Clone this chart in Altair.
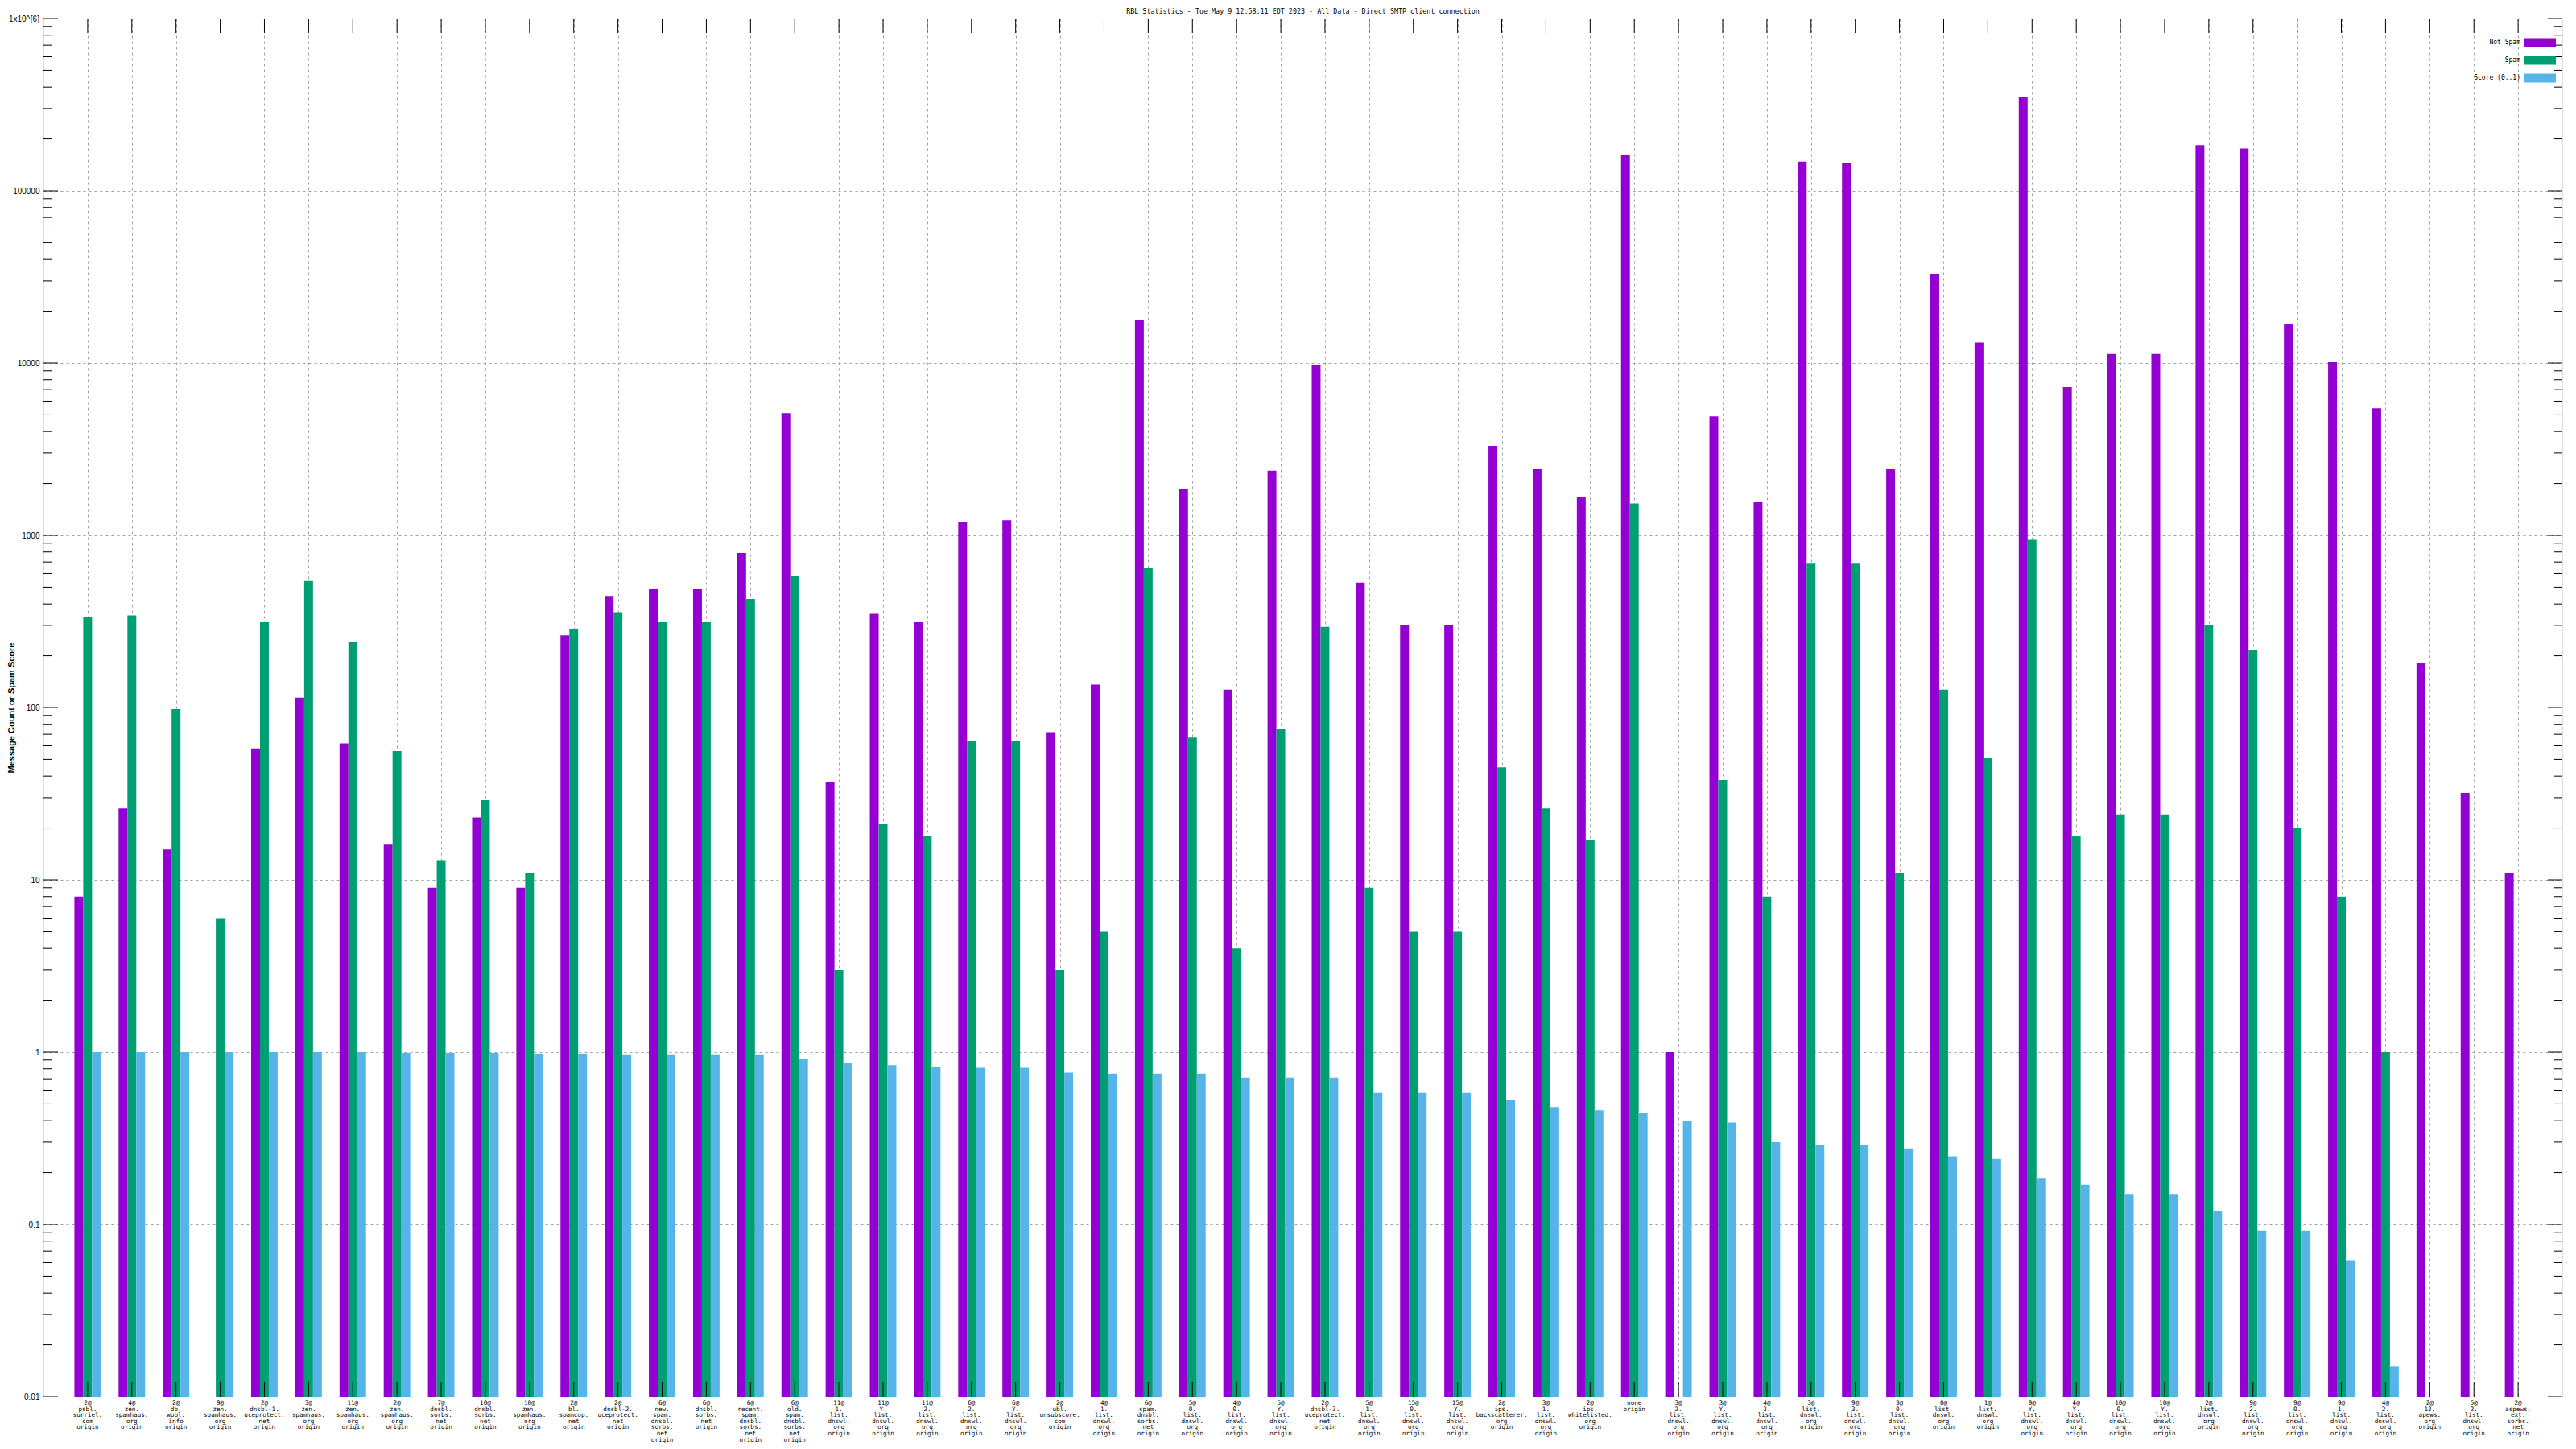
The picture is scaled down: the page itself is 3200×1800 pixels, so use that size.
import altair as alt
import pandas as pd

MONO = "DejaVu Sans Mono"

series = ["Not Spam", "Spam", "Score (0..1)"]
colors = ["#9400D3", "#009E73", "#56B4E9"]

labels = [
    "2@\npsbl.\nsurriel.\ncom\norigin",
    "4@\nzen.\nspamhaus.\norg\norigin",
    "2@\ndb.\nwpbl.\ninfo\norigin",
    "9@\nzen.\nspamhaus.\norg\norigin",
    "2@\ndnsbl-1.\nuceprotect.\nnet\norigin",
    "3@\nzen.\nspamhaus.\norg\norigin",
    "11@\nzen.\nspamhaus.\norg\norigin",
    "2@\nzen.\nspamhaus.\norg\norigin",
    "7@\ndnsbl.\nsorbs.\nnet\norigin",
    "10@\ndnsbl.\nsorbs.\nnet\norigin",
    "10@\nzen.\nspamhaus.\norg\norigin",
    "2@\nbl.\nspamcop.\nnet\norigin",
    "2@\ndnsbl-2.\nuceprotect.\nnet\norigin",
    "6@\nnew.\nspam.\ndnsbl.\nsorbs.\nnet\norigin",
    "6@\ndnsbl.\nsorbs.\nnet\norigin",
    "6@\nrecent.\nspam.\ndnsbl.\nsorbs.\nnet\norigin",
    "6@\nold.\nspam.\ndnsbl.\nsorbs.\nnet\norigin",
    "11@\n1.\nlist.\ndnswl.\norg\norigin",
    "11@\nY.\nlist.\ndnswl.\norg\norigin",
    "11@\n2.\nlist.\ndnswl.\norg\norigin",
    "6@\n2.\nlist.\ndnswl.\norg\norigin",
    "6@\nY.\nlist.\ndnswl.\norg\norigin",
    "2@\nubl.\nunsubscore.\ncom\norigin",
    "4@\n1.\nlist.\ndnswl.\norg\norigin",
    "6@\nspam.\ndnsbl.\nsorbs.\nnet\norigin",
    "5@\n0.\nlist.\ndnswl.\norg\norigin",
    "4@\n0.\nlist.\ndnswl.\norg\norigin",
    "5@\nY.\nlist.\ndnswl.\norg\norigin",
    "2@\ndnsbl-3.\nuceprotect.\nnet\norigin",
    "5@\n1.\nlist.\ndnswl.\norg\norigin",
    "15@\n0.\nlist.\ndnswl.\norg\norigin",
    "15@\nY.\nlist.\ndnswl.\norg\norigin",
    "2@\nips.\nbackscatterer.\norg\norigin",
    "3@\n1.\nlist.\ndnswl.\norg\norigin",
    "2@\nips.\nwhitelisted.\norg\norigin",
    "none\norigin",
    "3@\n2.\nlist.\ndnswl.\norg\norigin",
    "3@\nY.\nlist.\ndnswl.\norg\norigin",
    "4@\n3.\nlist.\ndnswl.\norg\norigin",
    "3@\nlist.\ndnswl.\norg\norigin",
    "9@\n3.\nlist.\ndnswl.\norg\norigin",
    "3@\n0.\nlist.\ndnswl.\norg\norigin",
    "0@\nlist.\ndnswl.\norg\norigin",
    "1@\nlist.\ndnswl.\norg\norigin",
    "9@\nY.\nlist.\ndnswl.\norg\norigin",
    "4@\nY.\nlist.\ndnswl.\norg\norigin",
    "10@\n0.\nlist.\ndnswl.\norg\norigin",
    "10@\nY.\nlist.\ndnswl.\norg\norigin",
    "2@\nlist.\ndnswl.\norg\norigin",
    "9@\n2.\nlist.\ndnswl.\norg\norigin",
    "9@\n0.\nlist.\ndnswl.\norg\norigin",
    "9@\n1.\nlist.\ndnswl.\norg\norigin",
    "4@\n2.\nlist.\ndnswl.\norg\norigin",
    "2@\n12.\napews.\norg\norigin",
    "5@\n2.\nlist.\ndnswl.\norg\norigin",
    "2@\naspews.\next.\nsorbs.\nnet\norigin",
]

not_spam = [8, 26, 15, 0, 58, 114, 62, 16, 9, 23, 9, 263, 445, 486, 486, 789, 5118,
            37, 350, 313, 1200, 1225, 72, 136, 17900, 1862, 127, 2371, 9680, 532, 300,
            300, 3300, 2420, 1667, 161000, 1, 4900, 1560, 147600, 144000, 2420, 33000,
            13150, 348000, 7250, 11300, 11300, 184000, 176000, 16750, 10100, 5460, 181,
            32, 11]

spam = [335, 343, 98, 6, 313, 543, 240, 56, 13, 29, 11, 287, 358, 313, 313, 427, 581,
        3, 21, 18, 64, 64, 3, 5, 647, 67, 4, 75, 294, 9, 5, 5, 45, 26, 17, 1528, 0, 38,
        8, 692, 692, 11, 127, 51, 942, 18, 24, 24, 300, 216, 20, 8, 1, 0, 0, 0]

score = [1, 1, 1, 1, 1, 1, 1, 0.99, 0.99, 0.99, 0.98, 0.98, 0.97, 0.97, 0.97, 0.97,
         0.91, 0.86, 0.84, 0.82, 0.81, 0.81, 0.76, 0.75, 0.75, 0.75, 0.71, 0.71, 0.71,
         0.58, 0.58, 0.58, 0.53, 0.48, 0.46, 0.445, 0.40, 0.39, 0.30, 0.29, 0.29, 0.276,
         0.248, 0.24, 0.186, 0.17, 0.15, 0.15, 0.12, 0.092, 0.092, 0.062, 0.015, 0, 0, 0]

y_major = [0.01, 0.1, 1, 10, 100, 1000, 10000, 100000, 1000000]
y_minor = [m * 10.0 ** e for e in range(-2, 6) for m in range(2, 10)]

TITLE = "RBL Statistics - Tue May  9 12:58:11 EDT 2023 - All Data - Direct SMTP client connection"
YTITLE = "Message Count or Spam Score"

W, H = 3129, 1712
N = len(labels)

rows = []
for i, vals in enumerate(zip(not_spam, spam, score), start=1):
    for k, (s, v) in enumerate(zip(series, vals)):
        if v > 0:
            rows.append({"idx": i, "series": s, "value": v,
                         "x0": i - 0.3 + 0.2 * k, "x1": i - 0.1 + 0.2 * k, "base": 0.01})
df = pd.DataFrame(rows)
lab_df = pd.DataFrame({"idx": list(range(1, N + 1)), "label": labels})

xscale = alt.Scale(domain=[0, N + 1], nice=False, zero=False)
yscale = alt.Scale(type="log", domain=[0.01, 1000000], nice=False)

GRID = dict(grid=True, gridDash=[3, 4], gridColor="#a0a0a0", gridWidth=1)

XAX = alt.Axis(values=list(range(1, N + 1)), labels=False, ticks=False,
               domain=False, title=None, **GRID)
YAX = alt.Axis(values=y_major, ticks=False, domain=False,
               labelExpr="datum.value >= 1000000 ? '1x10^{6}' : (datum.value >= 1 ? format(datum.value, 'd') : format(datum.value, '.2~f'))",
               title=YTITLE, titleX=-40, titleY=H / 2,
               titleAngle=270, titleAlign="center", titleBaseline="middle",
               labelPadding=5, **GRID)

bars = alt.Chart(df).mark_bar(strokeWidth=0).encode(
    x=alt.X("x0:Q", scale=xscale, axis=XAX),
    x2="x1:Q",
    y=alt.Y("value:Q", scale=yscale, axis=YAX),
    y2="base:Q",
    color=alt.Color("series:N", scale=alt.Scale(domain=series, range=colors), legend=None),
)

idx_df = pd.DataFrame({"idx": list(range(1, N + 1))})
xt_bottom = alt.Chart(idx_df).mark_rule(color="black", strokeWidth=1).encode(
    x=alt.X("idx:Q", scale=xscale, axis=XAX), y=alt.value(H), y2=alt.value(H - 18))
xt_top = alt.Chart(idx_df).mark_rule(color="black", strokeWidth=1).encode(
    x=alt.X("idx:Q", scale=xscale, axis=XAX), y=alt.value(0), y2=alt.value(18))

maj_df = pd.DataFrame({"value": y_major})
min_df = pd.DataFrame({"value": y_minor})
yt = []
for d, ln in ((maj_df, 18), (min_df, 10)):
    yt.append(alt.Chart(d).mark_rule(color="black", strokeWidth=1).encode(
        y=alt.Y("value:Q", scale=yscale, axis=YAX), x=alt.value(0), x2=alt.value(ln)))
    yt.append(alt.Chart(d).mark_rule(color="black", strokeWidth=1).encode(
        y=alt.Y("value:Q", scale=yscale, axis=YAX), x=alt.value(W), x2=alt.value(W - ln)))

xlabels = alt.Chart(lab_df).mark_text(
    baseline="top", align="center", lineBreak="\n", font=MONO, fontSize=7.6,
    lineHeight=7.6, color="black").encode(
    x=alt.X("idx:Q", scale=xscale, axis=XAX), y=alt.value(H + 4), text="label:N")

legend_layers = []
for k, (s, c) in enumerate(zip(series, colors)):
    yc = 30 + 22 * k
    ld = pd.DataFrame({"s": [s]})
    legend_layers.append(alt.Chart(ld).mark_rect(color=c).encode(
        x=alt.value(W - 47), x2=alt.value(W - 8), y=alt.value(yc - 5.5), y2=alt.value(yc + 5.5)))
    legend_layers.append(alt.Chart(ld).mark_text(
        align="right", baseline="middle", font=MONO, fontSize=8, color="black").encode(
        x=alt.value(W - 52), y=alt.value(yc), text="s:N"))

title_layer = alt.Chart(pd.DataFrame({"t": [TITLE]})).mark_text(
    align="center", baseline="middle", font=MONO, fontSize=8.4, color="black").encode(
    x=alt.value(W / 2), y=alt.value(-9.5), text="t:N")

chart = alt.layer(bars, xt_bottom, xt_top, *yt, xlabels, *legend_layers, title_layer).properties(
    width=W, height=H, autosize="none",
    padding={"left": 46, "top": 15, "right": 9, "bottom": 57},
).configure_axis(
    labelFont=MONO, labelFontSize=8, labelColor="black",
    titleFont=MONO, titleFontSize=8, titleColor="black", titleFontWeight="normal",
).configure_view(stroke="black", strokeWidth=1.5).configure(background="white")

chart.save("out.html", embed_options={"renderer": "svg", "actions": False})
